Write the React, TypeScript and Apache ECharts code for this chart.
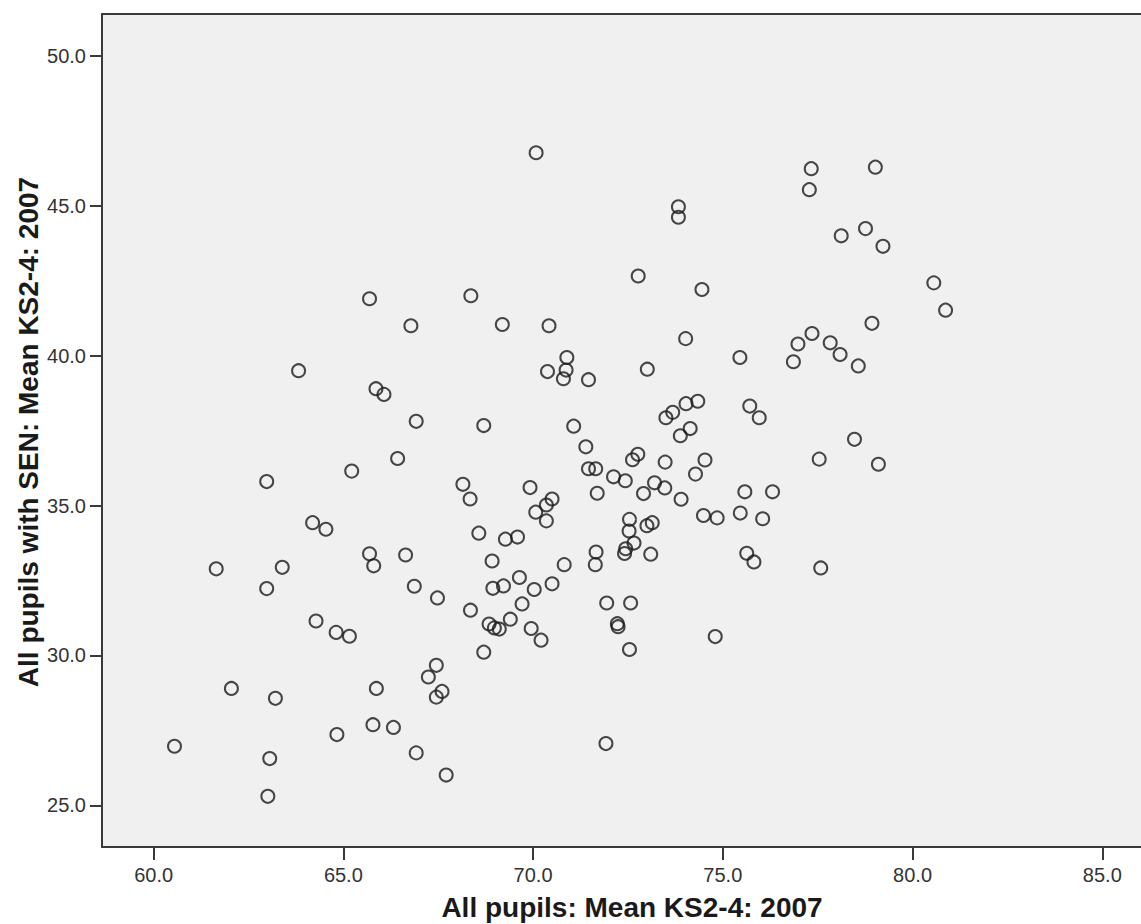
import React, { useEffect, useRef } from "react";
import * as echarts from "echarts";

// All pupils: Mean KS2-4: 2007
const xScores = [
  60.55, 61.65, 62.05, 62.98, 62.98, 63.01, 63.06, 63.21, 63.39, 63.82,
  64.19, 64.54, 64.28, 64.81, 65.16, 64.83, 65.22, 65.69, 65.69, 65.8,
  65.78, 65.86, 66.07, 65.87, 66.32, 66.43, 66.64, 66.78, 66.87, 66.92,
  66.92, 67.24, 67.45, 67.6, 67.45, 67.48, 67.71, 68.15, 68.34, 68.36,
  68.35, 68.57, 68.7, 68.7, 68.84, 68.98, 69.11, 68.92, 68.94, 69.22,
  69.19, 69.27, 69.59, 69.4, 69.64, 69.71, 69.92, 69.95, 70.03, 70.07,
  70.08, 70.21, 70.35, 70.5, 70.35, 70.42, 70.38, 70.5, 70.82, 70.89,
  70.87, 70.8, 71.07, 71.39, 71.46, 71.46, 71.65, 71.69, 71.66, 71.64,
  71.92, 71.94, 72.12, 72.43, 72.22, 72.24, 72.54, 72.53, 72.66, 72.44,
  72.41, 72.54, 72.57, 72.62, 72.76, 72.77, 72.91, 73.0, 73.14, 73.1,
  73.01, 73.2, 73.47, 73.48, 73.5, 73.68, 73.83, 73.83, 73.88, 74.14,
  73.9, 74.02, 74.03, 74.34, 74.28, 74.45, 74.53, 74.49, 74.85, 74.8,
  75.45, 75.46, 75.58, 75.71, 75.96, 75.63, 75.82, 76.05, 76.31, 76.86,
  76.98, 77.28, 77.33, 77.35, 77.54, 77.58, 77.83, 78.09, 78.12, 78.47,
  78.57, 78.76, 78.93, 79.02, 79.1, 79.22, 80.56, 80.87,
];

// All pupils with SEN: Mean KS2-4: 2007
const senScores = [
  26.97, 32.89, 28.9, 35.8, 32.23, 25.3, 26.56, 28.57, 32.94, 39.5,
  34.43, 34.21, 31.15, 30.77, 30.64, 27.36, 36.15, 41.9, 33.39, 32.99,
  27.69, 38.9, 38.71, 28.9, 27.6, 36.57, 33.35, 41.0, 32.31, 37.81,
  26.75, 29.28, 29.67, 28.8, 28.61, 31.92, 26.01, 35.71, 35.22, 42.0,
  31.51, 34.08, 37.67, 30.11, 31.05, 30.92, 30.88, 33.15, 32.24, 32.32,
  41.04, 33.88, 33.95, 31.21, 32.6, 31.72, 35.6, 30.9, 32.2, 34.78,
  46.77, 30.51, 35.02, 35.22, 34.49, 41.0, 39.47, 32.39, 33.03, 39.94,
  39.52, 39.23, 37.65, 36.96, 39.2, 36.23, 36.23, 35.41, 33.45, 33.03,
  27.06, 31.75, 35.96, 35.83, 31.06, 30.96, 34.54, 34.15, 33.75, 33.56,
  33.4, 30.2, 31.75, 36.53, 36.71, 42.66, 35.4, 34.33, 34.43, 33.38,
  39.55, 35.76, 35.59, 36.45, 37.93, 38.11, 44.97, 44.62, 37.33, 37.57,
  35.21, 40.57, 38.4, 38.48, 36.05, 42.21, 36.52, 34.67, 34.59, 30.63,
  39.94, 34.75, 35.46, 38.32, 37.93, 33.41, 33.12, 34.56, 35.46, 39.8,
  40.39, 45.54, 46.24, 40.74, 36.55, 32.92, 40.43, 40.04, 44.0, 37.21,
  39.66, 44.24, 41.08, 46.29, 36.38, 43.65, 42.43, 41.52,
];

const xTicks = [60, 65, 70, 75, 80, 85];
const yTicks = [25, 30, 35, 40, 45, 50];

const xTitle = "All pupils: Mean KS2-4: 2007";
const yTitle = "All pupils with SEN: Mean KS2-4: 2007";

const FONT = '"Liberation Sans", Arial, sans-serif';
const AXIS_COLOR = "#3a3a3a";

export default function App() {
  const ref = useRef<HTMLDivElement>(null);

  useEffect(() => {
    if (!ref.current) return;
    const chart = echarts.init(ref.current, undefined, { renderer: "svg" });
    const points = xScores.map((x, i) => [x, senScores[i]]);
    const fmt = (v: number) => v.toFixed(1);

    chart.setOption({
      animation: false,
      backgroundColor: "#ffffff",
      grid: {
        left: 102,
        top: 14,
        right: 0,
        bottom: 77,
        show: true,
        backgroundColor: "#f0f0f0",
        borderWidth: 0,
      },
      xAxis: [
        {
          type: "value",
          min: 58.64,
          max: 86.02,
          position: "bottom",
          axisLine: { show: true, lineStyle: { color: AXIS_COLOR, width: 2 } },
          axisTick: {
            show: true,
            customValues: xTicks,
            length: 13,
            lineStyle: { color: AXIS_COLOR, width: 2 },
          },
          axisLabel: {
            customValues: xTicks,
            formatter: fmt,
            margin: 18,
            fontFamily: FONT,
            fontSize: 20,
            color: "#333",
          },
          splitLine: { show: false },
        },
        {
          type: "value",
          min: 58.64,
          max: 86.02,
          position: "top",
          axisLine: { show: true, lineStyle: { color: AXIS_COLOR, width: 2 } },
          axisTick: { show: false },
          axisLabel: { show: false },
          splitLine: { show: false },
        },
      ],
      yAxis: {
        type: "value",
        min: 23.61,
        max: 51.4,
        axisLine: { show: true, lineStyle: { color: AXIS_COLOR, width: 2 } },
        axisTick: {
          show: true,
          customValues: yTicks,
          length: 12,
          lineStyle: { color: AXIS_COLOR, width: 2 },
        },
        axisLabel: {
          customValues: yTicks,
          formatter: fmt,
          margin: 16,
          fontFamily: FONT,
          fontSize: 20,
          color: "#333",
        },
        splitLine: { show: false },
      },
      graphic: [
        {
          type: "text",
          x: 632,
          y: 907,
          style: {
            text: xTitle,
            fontFamily: FONT,
            fontWeight: "bold",
            fontSize: 28,
            fill: "#1a1a1a",
            align: "center",
            verticalAlign: "middle",
          },
        },
        {
          type: "text",
          x: 28,
          y: 432,
          rotation: Math.PI / 2,
          style: {
            text: yTitle,
            fontFamily: FONT,
            fontWeight: "bold",
            fontSize: 28,
            fill: "#1a1a1a",
            align: "center",
            verticalAlign: "middle",
          },
        },
      ],
      series: [
        {
          type: "scatter",
          xAxisIndex: 0,
          yAxisIndex: 0,
          data: points,
          symbol: "circle",
          symbolSize: 13,
          itemStyle: {
            color: "rgba(0,0,0,0)",
            borderColor: "#1a1a1a",
            borderWidth: 2,
          },
          emphasis: { disabled: true },
        },
      ],
    });

    return () => chart.dispose();
  }, []);

  return (
    <div
      ref={ref}
      style={{ position: "absolute", left: 0, top: 0, width: 1141, height: 924 }}
    />
  );
}
